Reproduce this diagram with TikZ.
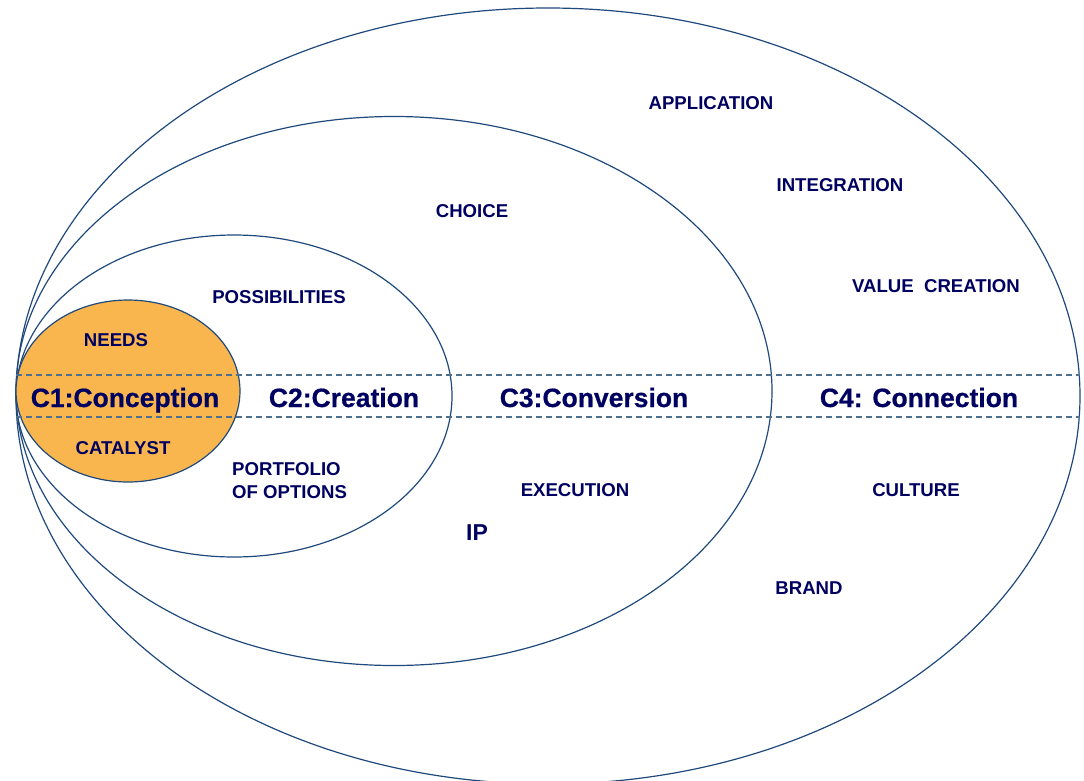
\documentclass[tikz,border=0pt]{standalone}
\usepackage{fontspec}
\setmainfont{Liberation Sans}
\newfontfamily\stagefont{Liberation Sans}[BoldFeatures={FakeBold=0.6}]
\begin{document}
\definecolor{ringblue}{RGB}{31,73,125}
\definecolor{dashblue}{RGB}{79,111,143}
\definecolor{labelnavy}{RGB}{0,0,96}
\definecolor{coreorange}{RGB}{249,182,78}
\begin{tikzpicture}[x=1pt,y=-1pt,
  ring/.style={draw=ringblue,line width=1.2pt},
  band/.style={draw=dashblue,line width=1.4pt,dash pattern=on 6pt off 4pt},
  word/.style={text=labelnavy,font=\bfseries\fontsize{18.6}{21}\selectfont,inner sep=0pt},
  stage/.style={text=labelnavy,font=\stagefont\bfseries\fontsize{26.5}{29}\selectfont,inner sep=0pt,anchor=base}]
\useasboundingbox (0,0) rectangle (1084,780);
\begin{scope}
\clip (0,0) rectangle (1084,780);
% nested rings, all touching on the left
\draw[ring] (548,396) ellipse [x radius=532pt, y radius=388pt];
\draw[ring] (394,391) ellipse [x radius=378pt, y radius=274.5pt];
\draw[ring] (234,396) ellipse [x radius=218pt, y radius=161pt];
\draw[ring,fill=coreorange] (128,391) ellipse [x radius=112pt, y radius=91pt];
\end{scope}
% dashed band through the middle
\coordinate (bandTL) at (16,375);
\coordinate (bandTR) at (1080,375);
\coordinate (bandBL) at (16,417);
\coordinate (bandBR) at (1080,417);
\draw[band] (bandTL) -- (bandTR);
\draw[band] (bandBL) -- (bandBR);
% stage titles
\node[stage] (c1) at (125,407) {C1:Conception};
\node[stage] (c2) at (344,407) {C2:Creation};
\node[stage] (c3) at (594,407) {C3:Conversion};
\node[stage] (c4) at (919,407) {C4: Connection};
% keywords
\node[word] (needs) at (116,340) {NEEDS};
\node[word] (catalyst) at (123,448) {CATALYST};
\node[word] (possib) at (279,297) {POSSIBILITIES};
\node[word,align=left,anchor=west] (portfolio) at (232,481) {PORTFOLIO\\[2pt]OF OPTIONS};
\node[word] (choice) at (472,211) {CHOICE};
\node[word] (execution) at (575,490) {EXECUTION};
\node[word,font=\bfseries\fontsize{23}{26}\selectfont] (ip) at (477,533) {IP};
\node[word] (application) at (711,103) {APPLICATION};
\node[word] (integration) at (840,185) {INTEGRATION};
\node[word] (value) at (936,286) {VALUE\ \ CREATION};
\node[word] (culture) at (916,490) {CULTURE};
\node[word] (brand) at (809,588) {BRAND};
\end{tikzpicture}
\end{document}
